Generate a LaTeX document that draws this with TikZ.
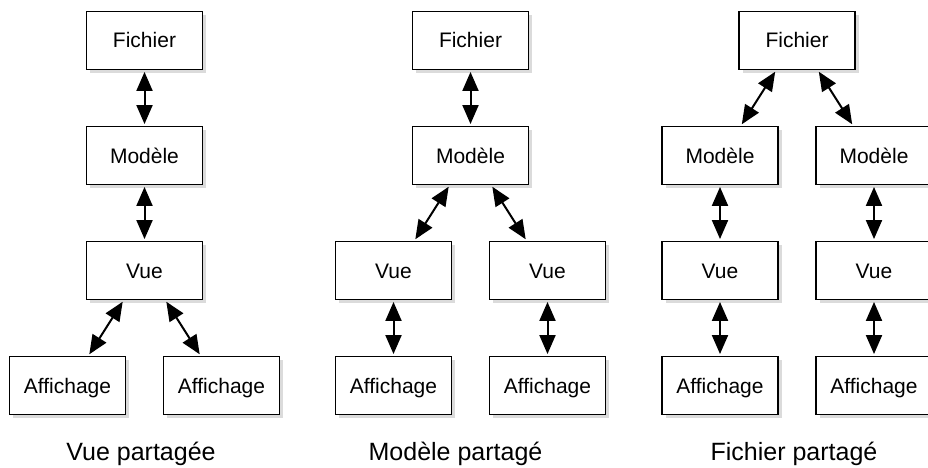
\documentclass[tikz,border=0pt]{standalone}
\usepackage{fontspec}
\setmainfont{Liberation Sans}
\usetikzlibrary{arrows.meta,shadows}

\begin{document}
\begin{tikzpicture}[
  x=1pt, y=-1pt,
  box/.style={draw=black, line width=1.9pt, fill=white,
    minimum width=116pt, minimum height=58pt, inner sep=0pt,
    text height=15pt, text depth=0pt,
    font=\fontsize{21}{25}\selectfont,
    drop shadow={shadow xshift=3.5pt, shadow yshift=-3.5pt, fill=black!28}},
  biarrow/.style={line width=2pt,
    {Triangle[length=19pt,width=16pt]}-{Triangle[length=19pt,width=16pt]},
    shorten <=1.5pt, shorten >=1.5pt},
  caption/.style={anchor=base, font=\fontsize{25}{30}\selectfont}
]
\useasboundingbox (0,0) rectangle (928,468);

% --- Vue partagée ---
\node[box] (f1) at (144.5,40.5) {Fichier};
\node[box] (m1) at (144.5,155.5) {Modèle};
\node[box] (v1) at (144.5,270.5) {Vue};
\node[box] (a1a) at (67.5,385.5) {Affichage};
\node[box] (a1b) at (221.5,385.5) {Affichage};
\draw[biarrow] (f1.south) -- (m1.north);
\draw[biarrow] (m1.south) -- (v1.north);
\draw[biarrow] ([xshift=-21pt]v1.south) -- ([xshift=21pt]a1a.north);
\draw[biarrow] ([xshift=21pt]v1.south) -- ([xshift=-21pt]a1b.north);
\node[caption] (c1) at (141,460) {Vue partagée};

% --- Modèle partagé ---
\node[box] (f2) at (470.5,40.5) {Fichier};
\node[box] (m2) at (470.5,155.5) {Modèle};
\node[box] (v2a) at (393.5,270.5) {Vue};
\node[box] (v2b) at (547.5,270.5) {Vue};
\node[box] (a2a) at (393.5,385.5) {Affichage};
\node[box] (a2b) at (547.5,385.5) {Affichage};
\draw[biarrow] (f2.south) -- (m2.north);
\draw[biarrow] ([xshift=-21pt]m2.south) -- ([xshift=21pt]v2a.north);
\draw[biarrow] ([xshift=21pt]m2.south) -- ([xshift=-21pt]v2b.north);
\draw[biarrow] (v2a.south) -- (a2a.north);
\draw[biarrow] (v2b.south) -- (a2b.north);
\node[caption] (c2) at (455.5,460) {Modèle partagé};

% --- Fichier partagé ---
\node[box] (f3) at (797,40.5) {Fichier};
\node[box] (m3a) at (720,155.5) {Modèle};
\node[box] (m3b) at (874,155.5) {Modèle};
\node[box] (v3a) at (720,270.5) {Vue};
\node[box] (v3b) at (874,270.5) {Vue};
\node[box] (a3a) at (720,385.5) {Affichage};
\node[box] (a3b) at (874,385.5) {Affichage};
\draw[biarrow] ([xshift=-21pt]f3.south) -- ([xshift=21pt]m3a.north);
\draw[biarrow] ([xshift=21pt]f3.south) -- ([xshift=-21pt]m3b.north);
\draw[biarrow] (m3a.south) -- (v3a.north);
\draw[biarrow] (m3b.south) -- (v3b.north);
\draw[biarrow] (v3a.south) -- (a3a.north);
\draw[biarrow] (v3b.south) -- (a3b.north);
\node[caption] (c3) at (794,460) {Fichier partagé};
\end{tikzpicture}
\end{document}
